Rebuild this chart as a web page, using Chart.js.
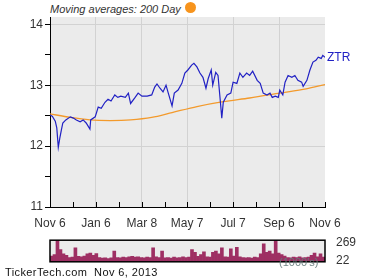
<!DOCTYPE html>
<html>
<head>
<meta charset="utf-8">
<script src="https://cdn.jsdelivr.net/npm/chart.js@4"></script>
<style>
  body { margin: 0; background: #fff; font-family: "Liberation Sans", Arial, sans-serif; }
  #wrap { position: relative; width: 380px; height: 280px; overflow: hidden; }
  canvas { position: absolute; left: 0; }
  .txt { position: absolute; white-space: nowrap; }
</style>
</head>
<body>
<div id="wrap">
  <div class="txt" style="left:50px;top:3px;font-size:11px;font-style:italic;color:#333;">Moving averages: 200 Day</div>
  <div style="position:absolute;left:185px;top:2px;width:11px;height:11px;border-radius:50%;background:#f7941d;"></div>
  <canvas id="price" width="380" height="235" style="top:0"></canvas>
  <canvas id="vol" width="380" height="42" style="top:230px"></canvas>
  <div class="txt" style="left:327px;top:50px;font-size:12px;color:#2121c4;">ZTR</div>
  <div class="txt" style="left:279px;top:256px;font-size:11px;color:rgba(100,122,122,0.9);">(1000's)</div>
  <div class="txt" style="left:5px;top:266px;font-size:11px;letter-spacing:0.4px;color:#111;">TickerTech.com&nbsp; Nov 6, 2013</div>
</div>
<script>
// calendar days since Nov 6, 2012 and closing price
const days = [0, 3, 7, 9, 11, 13, 15, 17, 21, 27, 31, 35, 40, 44, 48, 53, 54, 60, 64, 68,
  73, 77, 81, 86, 90, 94, 100, 104, 107, 113, 117, 122, 129, 135, 139, 142, 146, 150, 154, 157,
  162, 165, 170, 175, 179, 183, 188, 191, 195, 199, 203, 207, 210, 214, 216, 220, 223, 226, 228, 230,
  235, 240, 243, 248, 252, 256, 261, 265, 269, 275, 279, 283, 288, 292, 295, 299, 303, 305, 309, 312,
  316, 321, 325, 329, 334, 336, 341, 345, 349, 353, 356, 360, 362, 365];
const price = [12.51, 12.49, 12.41, 12.30, 11.98, 12.13, 12.26, 12.38, 12.43, 12.48, 12.46, 12.43, 12.40, 12.43, 12.38, 12.28, 12.43, 12.48, 12.64, 12.62,
  12.72, 12.77, 12.74, 12.84, 12.80, 12.82, 12.80, 12.87, 12.70, 12.80, 12.87, 12.82, 12.82, 12.84, 12.97, 13.02, 12.95, 12.89, 13.00, 12.87,
  12.66, 12.87, 12.92, 13.03, 13.20, 13.25, 13.33, 13.36, 13.30, 13.20, 13.13, 12.95, 13.11, 13.25, 13.00, 13.21, 13.16, 12.75, 12.46, 12.72,
  12.84, 12.87, 13.05, 13.03, 13.20, 13.13, 13.20, 13.16, 13.23, 13.08, 13.03, 12.87, 12.84, 12.87, 12.80, 12.82, 12.80, 12.92, 12.84, 13.05,
  13.16, 13.13, 13.16, 13.08, 13.05, 12.98, 13.08, 13.25, 13.38, 13.41, 13.46, 13.44, 13.49, 13.46];

// 200 day moving average
const maDays = [0, 27, 53, 80, 107, 135, 162, 195, 230, 265, 305, 340, 365];
const ma = [12.53, 12.47, 12.43, 12.42, 12.43, 12.47, 12.55, 12.65, 12.73, 12.79, 12.87, 12.94, 13.01];

// x axis
const xTickDays = [0, 61, 122, 182, 243, 304, 365];
const xTickLabels = ['Nov 6', 'Jan 6', 'Mar 8', 'May 7', 'Jul 7', 'Sep 6', 'Nov 6'];
const yTicks = [11, 11.5, 12, 12.5, 13, 13.5, 14];

// volume (1000's)
const volume = [80, 100, 300, 170, 110, 90, 60, 65, 195, 75, 70, 80, 110, 120, 90, 115, 60, 50, 55, 45,
  55, 150, 60, 55, 65, 60, 70, 75, 65, 70, 60, 55, 65, 60, 195, 70, 60, 150, 55, 60,
  50, 65, 55, 60, 70, 60, 65, 170, 130, 75, 100, 140, 70, 65, 130, 150, 110, 195, 70, 65,
  180, 80, 200, 70, 60, 55, 60, 50, 65, 60, 110, 250, 130, 150, 110, 300, 120, 100, 80, 60,
  55, 65, 60, 70, 55, 60, 65, 90, 120, 70, 110, 65];
const volTicks = [22, 269];

const font = { family: '"Liberation Sans", Arial, sans-serif', size: 12 };

// gray plot background
const plotBg = {
  id: 'plotBg',
  beforeDraw(chart) {
    const a = chart.chartArea, c = chart.ctx;
    c.save();
    c.fillStyle = '#ebebeb';
    c.fillRect(a.left, a.top, a.right - a.left, a.bottom - a.top);
    c.restore();
  }
};

// x tick marks point up into the plot
const innerTicks = {
  id: 'innerTicks',
  afterDraw(chart) {
    const s = chart.scales.x, c = chart.ctx, b = chart.chartArea.bottom;
    c.save();
    c.strokeStyle = '#000';
    c.lineWidth = 1;
    s.ticks.forEach(t => {
      const px = Math.round(s.getPixelForValue(t.value)) + 0.5;
      c.beginPath();
      c.moveTo(px, b);
      c.lineTo(px, b - 5);
      c.stroke();
    });
    c.restore();
  }
};

new Chart(document.getElementById('price'), {
  type: 'line',
  data: {
    datasets: [
      {
        label: 'ZTR',
        data: days.map((d, i) => ({ x: d, y: price[i] })),
        borderColor: '#2121c4',
        borderWidth: 1.2,
        pointRadius: 0,
        tension: 0
      },
      {
        label: '200 Day',
        data: maDays.map((d, i) => ({ x: d, y: ma[i] })),
        borderColor: '#f39a2c',
        borderWidth: 1.3,
        pointRadius: 0,
        tension: 0.3
      }
    ]
  },
  options: {
    responsive: false,
    animation: false,
    layout: { padding: { left: 0, right: 55, top: 17, bottom: 0 } },
    plugins: { legend: { display: false }, tooltip: { enabled: false } },
    scales: {
      x: {
        type: 'linear',
        min: 0,
        max: 365,
        afterBuildTicks(scale) {
          const t = [];
          xTickDays.forEach((d, i) => {
            t.push({ value: d });
            if (i < xTickDays.length - 1) t.push({ value: (d + xTickDays[i + 1]) / 2 });
          });
          scale.ticks = t;
        },
        afterFit(scale) { scale.height = 28; },
        grid: {
          color: ctx => (xTickDays.includes(ctx.tick.value) && ctx.tick.value > 0 && ctx.tick.value < 365) ? '#d2d2d2' : 'rgba(0,0,0,0)',
          drawTicks: false
        },
        border: { color: '#000', width: 1 },
        ticks: {
          autoSkip: false,
          maxRotation: 0,
          padding: 9,
          color: '#333',
          font: font,
          callback: v => {
            const i = xTickDays.indexOf(v);
            return i >= 0 ? xTickLabels[i] : '';
          }
        }
      },
      y: {
        min: 11,
        max: 14.12,
        afterBuildTicks(scale) { scale.ticks = yTicks.map(v => ({ value: v })); },
        afterFit(scale) { scale.width = 50; },
        grid: {
          color: ctx => (Number.isInteger(ctx.tick.value) && ctx.tick.value > 11) ? '#d2d2d2' : 'rgba(0,0,0,0)',
          tickColor: '#000',
          tickLength: 5
        },
        border: { color: '#000', width: 1 },
        ticks: {
          padding: 2,
          color: '#333',
          font: font,
          callback: v => Number.isInteger(v) ? String(v) : ''
        }
      }
    }
  },
  plugins: [plotBg, innerTicks]
});

// black frame round the volume panel
const volFrame = {
  id: 'volFrame',
  afterDraw(chart) {
    const a = chart.chartArea, c = chart.ctx;
    c.save();
    c.strokeStyle = '#000';
    c.lineWidth = 1.5;
    c.strokeRect(a.left, a.top, a.right - a.left, a.bottom - a.top);
    c.restore();
  }
};

new Chart(document.getElementById('vol'), {
  type: 'bar',
  data: {
    labels: volume.map((_, i) => i),
    datasets: [{
      data: volume,
      backgroundColor: '#9e2f63',
      barPercentage: 1,
      categoryPercentage: 1
    }]
  },
  options: {
    responsive: false,
    animation: false,
    layout: { padding: { left: 50, right: 0, top: 5, bottom: 6 } },
    plugins: { legend: { display: false }, tooltip: { enabled: false } },
    scales: {
      x: { display: false },
      y: {
        position: 'right',
        min: 0,
        max: 300,
        afterBuildTicks(scale) { scale.ticks = volTicks.map(v => ({ value: v })); },
        afterFit(scale) { scale.width = 55; },
        grid: { display: false },
        border: { display: false },
        ticks: { padding: 3, color: '#333', font: font }
      }
    }
  },
  plugins: [plotBg, volFrame]
});
</script>
</body>
</html>
